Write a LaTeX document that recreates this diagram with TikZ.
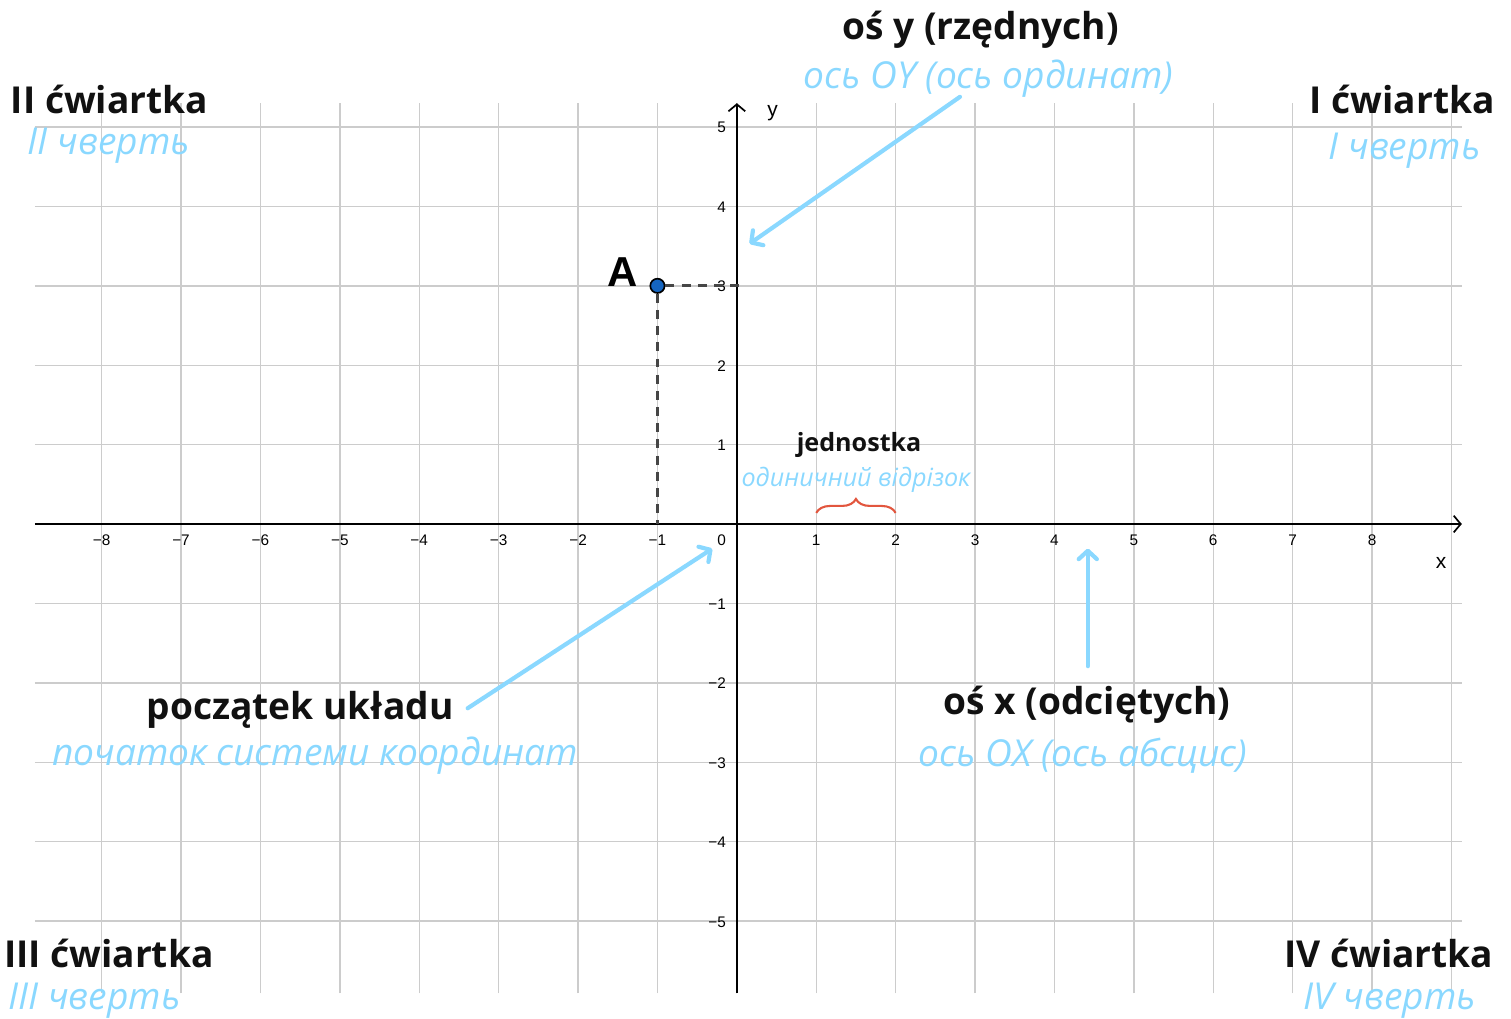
\documentclass[tikz,border=0pt]{standalone}
\usepackage{fontspec}
\setmainfont{Open Sans}
\newfontfamily\axisfont{Liberation Sans}
\usepackage{xcolor}
\usetikzlibrary{arrows.meta, positioning, decorations.pathreplacing}
\definecolor{gridgray}{RGB}{204, 204, 204}
\definecolor{darktext}{RGB}{17, 17, 17}
\definecolor{skyblue}{RGB}{138, 216, 255}
\definecolor{pointblue}{RGB}{21, 101, 192}
\definecolor{bracered}{RGB}{226, 86, 62}
\definecolor{guidegray}{RGB}{70, 70, 70}

\tikzset{
    gridline/.style={draw=gridgray, line width=0.5pt},
    axisline/.style={draw=black, line width=0.6pt, -{Straight Barb[length=2.5pt, width=6pt]}},
    ticklabel/.style={font=\axisfont\fontsize{5.5}{6}\selectfont, inner sep=0pt},
    axisname/.style={font=\axisfont\fontsize{7.5}{8}\selectfont, inner sep=0pt},
    pltext/.style={font=\fontsize{13.3}{16}\selectfont\bfseries, text=darktext, inner sep=0pt},
    uatext/.style={font=\fontsize{13.3}{16}\selectfont\itshape, text=skyblue, inner sep=0pt},
    plsmall/.style={font=\fontsize{9}{11}\selectfont\bfseries, text=darktext, inner sep=0pt},
    uasmall/.style={font=\fontsize{9}{11}\selectfont\itshape, text=skyblue, inner sep=0pt},
    pointer/.style={draw=skyblue, line width=1.5pt, line cap=round,
        -{Straight Barb[round, length=3pt, width=6.5pt]}},
    guide/.style={draw=guidegray, line width=1pt, dash pattern=on 3.2pt off 2.6pt},
    unitbrace/.style={draw=bracered, line width=0.75pt,
        decorate, decoration={brace, amplitude=5pt}},
    pointdot/.style={circle, draw=black, line width=0.6pt, fill=pointblue,
        minimum size=0.18cm, inner sep=0pt}
}

\begin{document}
\begin{tikzpicture}
    \useasboundingbox (-9.28,-6.23) rectangle (9.75,6.60);

    % grid
    \foreach \x in {-8,...,9}
        \draw[gridline] (\x,-5.91) -- (\x,5.30);
    \foreach \y in {-5,...,5}
        \draw[gridline] (-8.84,\y) -- (9.13,\y);

    % axes
    \coordinate (xStart) at (-8.84,0);
    \coordinate (xEnd) at (9.13,0);
    \coordinate (yStart) at (0,-5.91);
    \coordinate (yEnd) at (0,5.30);
    \draw[axisline] (xStart) -- (xEnd);
    \draw[axisline] (yStart) -- (yEnd);
    \node[axisname] (xName) at (8.87,-0.49) {x};
    \node[axisname] (yName) at (0.45,5.18) {y};

    % tick labels
    \foreach \x in {1,...,8} {
        \node[ticklabel, anchor=base] at (\x,-0.265) {\x};
        \node[ticklabel, anchor=base] at (-\x,-0.265) {−\x};
    }
    \foreach \y in {1,...,5} {
        \node[ticklabel, anchor=base east] at (-0.13,\y-0.075) {\y};
        \node[ticklabel, anchor=base east] at (-0.13,-\y-0.075) {−\y};
    }
    \node[ticklabel, anchor=base east] (origin) at (-0.13,-0.265) {0};

    % point A
    \coordinate (Ay) at (0.05,3);
    \coordinate (Ax) at (-1,0);
    \node[pointdot] (A) at (-1,3) {};
    \draw[guide] (A) -- (Ay);
    \draw[guide] (A) -- (Ax);
    \node[font=\axisfont\fontsize{15}{17}\selectfont\bfseries, inner sep=0pt] (Alabel) at (-1.44,3.17) {A};

    % unit segment
    \draw[unitbrace] (1,0.14) -- (2,0.14);
    \node[plsmall] (unitPl) at (1.54,1.00) {jednostka};
    \node[uasmall] (unitUa) at (1.50,0.56) {одиничний відрізок};

    % quadrants
    \node[pltext] (q2Pl) at (-7.90,5.35) {II ćwiartka};
    \node[uatext] (q2Ua) at (-7.91,4.76) {II чверть};
    \node[pltext] (q1Pl) at (8.38,5.35) {I ćwiartka};
    \node[uatext] (q1Ua) at (8.41,4.70) {I чверть};
    \node[pltext] (q3Pl) at (-7.91,-5.41) {III ćwiartka};
    \node[uatext] (q3Ua) at (-8.09,-6.00) {III чверть};
    \node[pltext] (q4Pl) at (8.21,-5.41) {IV ćwiartka};
    \node[uatext] (q4Ua) at (8.22,-6.00) {IV чверть};

    % axis names and origin
    \node[pltext] (oyPl) at (3.07,6.22) {oś y (rzędnych)};
    \node[uatext] (oyUa) at (3.17,5.61) {ось OY (ось ординат)};
    \node[pltext] (ogPl) at (-5.50,-2.34) {początek układu};
    \node[uatext] (ogUa) at (-5.31,-2.92) {початок системи координат};
    \node[pltext] (oxPl) at (4.41,-2.28) {oś x (odciętych)};
    \node[uatext] (oxUa) at (4.36,-2.92) {ось OX (ось абсцис)};

    % pointers
    \coordinate (oyTail) at (2.81,5.38);
    \coordinate (oyHead) at (0.16,3.53);
    \coordinate (ogTail) at (-3.39,-2.32);
    \coordinate (ogHead) at (-0.31,-0.31);
    \coordinate (oxTail) at (4.42,-1.79);
    \coordinate (oxHead) at (4.42,-0.31);
    \draw[pointer] (oyTail) -- (oyHead);
    \draw[pointer] (ogTail) -- (ogHead);
    \draw[pointer] (oxTail) -- (oxHead);
\end{tikzpicture}
\end{document}
